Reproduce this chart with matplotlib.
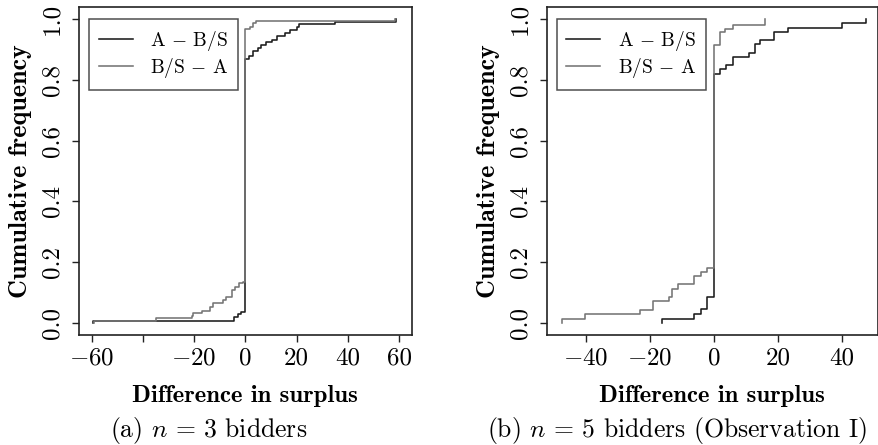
import matplotlib
matplotlib.use("Agg")
import matplotlib.pyplot as plt

plt.rcParams["font.family"] = "cmr10"
plt.rcParams["mathtext.fontset"] = "cm"
plt.rcParams["axes.unicode_minus"] = False

n3_ab_x = [-59.4, -4.4, -2.9, -1.8, 0.0, 1.4, 3.0, 4.9, 6.2, 8.2, 10.5, 12.3, 15.3, 17.6, 20.1, 21.1, 34.8, 58.6]
n3_ab_y = [0.007, 0.020, 0.029, 0.035, 0.871, 0.880, 0.895, 0.906, 0.915, 0.924, 0.932, 0.944, 0.954, 0.965, 0.976, 0.985, 0.992, 1.0]
n3_ba_x = [-59.0, -35.0, -21.0, -20.5, -17.1, -13.9, -12.6, -8.7, -7.4, -5.1, -4.2, -2.5, -0.9, 0.0, 1.7, 3.0, 4.0, 58.2]
n3_ba_y = [0.006, 0.015, 0.023, 0.031, 0.040, 0.051, 0.064, 0.075, 0.084, 0.108, 0.119, 0.132, 0.135, 0.968, 0.976, 0.987, 0.994, 1.0]

n5_ab_x = [-16.2, -6.2, -4.1, -2.2, 0.0, 1.8, 3.8, 5.9, 11.1, 12.9, 14.3, 18.8, 23.0, 40.0, 47.3]
n5_ab_y = [0.012, 0.029, 0.044, 0.084, 0.819, 0.835, 0.849, 0.875, 0.890, 0.918, 0.932, 0.957, 0.972, 0.987, 1.0]
n5_ba_x = [-47.2, -40.2, -23.0, -19.1, -13.9, -13.1, -11.1, -6.2, -4.1, -2.0, 0.0, 1.8, 3.5, 5.9, 16.0]
n5_ba_y = [0.012, 0.028, 0.042, 0.071, 0.084, 0.111, 0.127, 0.154, 0.168, 0.181, 0.915, 0.959, 0.970, 0.983, 1.0]

series_labels = ["A $-$ B/S", "B/S $-$ A"]
y_ticks = [0.0, 0.2, 0.4, 0.6, 0.8, 1.0]
y_ticklabels = ["0.0", "0.2", "0.4", "0.6", "0.8", "1.0"]
n3_xticks = [-60, -40, -20, 0, 20, 40, 60]
n3_xticklabels = ["$-60$", "", "$-20$", "0", "20", "40", "60"]
n5_xticks = [-40, -20, 0, 20, 40]
n5_xticklabels = ["$-40$", "$-20$", "0", "20", "40"]
captions = ["(a) $n\\,=\\,3$ bidders", "(b) $n\\,=\\,5$ bidders (Observation I)"]

BLACK = "#1c1c1c"
GRAY = "#757575"

fig = plt.figure(figsize=(8.79, 4.45), dpi=100)
ax1 = fig.add_axes([0.0899, 0.2476, 0.3785, 0.736])
ax2 = fig.add_axes([0.622, 0.2476, 0.377, 0.736])


def ecdf(ax, xs, ys, color, label):
    # start from zero so the first jump shows as a short vertical
    ax.step([xs[0]] + xs, [0.0] + ys, where="post", color=color, lw=1.15, label=label)


panels = [
    (ax1, n3_ab_x, n3_ab_y, n3_ba_x, n3_ba_y, n3_xticks, n3_xticklabels, (-64.9, 64.9)),
    (ax2, n5_ab_x, n5_ab_y, n5_ba_x, n5_ba_y, n5_xticks, n5_xticklabels, (-52.1, 51.2)),
]
for ax, abx, aby, bax, bay, xt, xtl, xlim in panels:
    ecdf(ax, abx, aby, BLACK, series_labels[0])
    ecdf(ax, bax, bay, GRAY, series_labels[1])
    ax.set_xlim(*xlim)
    ax.set_ylim(-0.04, 1.04)
    ax.set_xticks(xt)
    ax.set_xticklabels(xtl, fontsize=18)
    ax.set_yticks(y_ticks)
    ax.set_yticklabels(y_ticklabels, fontsize=18, rotation=90, va="center")
    ax.tick_params(axis="both", length=5, width=1.0, color="#222222")
    ax.tick_params(axis="x", pad=4)
    ax.tick_params(axis="y", pad=6)
    for s in ax.spines.values():
        s.set_linewidth(1.2)
        s.set_color("#222222")
    ax.set_xlabel("Difference in surplus", fontfamily="cmb10", fontsize=17.8, labelpad=11)
    ax.set_ylabel("Cumulative frequency", fontfamily="cmb10", fontsize=18.8, labelpad=7)
    leg = ax.legend(loc="upper left", bbox_to_anchor=(0.03, 0.963), fontsize=14,
                    fancybox=False, edgecolor="#222222", handlelength=1.75,
                    handletextpad=0.9, borderpad=0.5, labelspacing=0.15,
                    borderaxespad=0.0)
    leg.get_frame().set_linewidth(1.1)

fig.text(209 / 879, 1 - 430 / 445, captions[0], fontsize=18.5, ha="center", va="center")
fig.text(677 / 879, 1 - 430 / 445, captions[1], fontsize=18.5, ha="center", va="center")

fig.savefig("out.png", dpi=100)
